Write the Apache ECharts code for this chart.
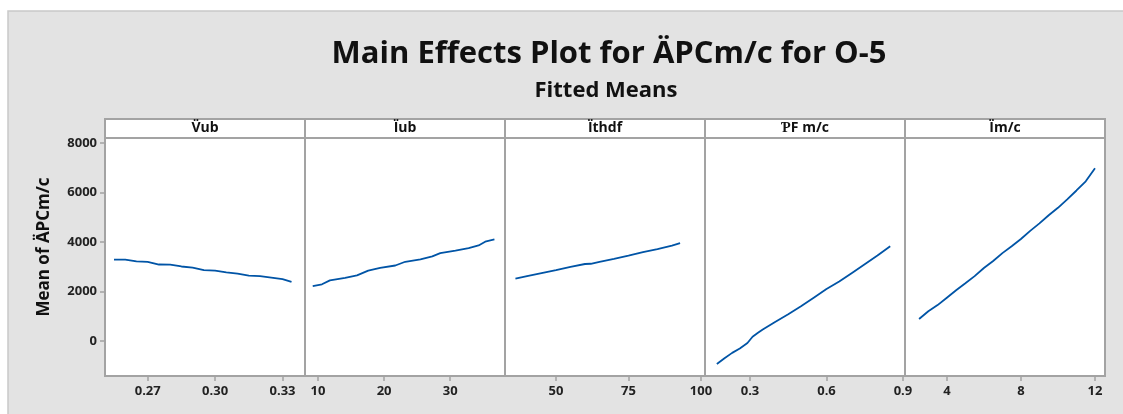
<!DOCTYPE html>
<html>
<head>
<meta charset="utf-8">
<script src="https://cdn.jsdelivr.net/npm/echarts@6/dist/echarts.min.js"></script>
<style>html,body{margin:0;padding:0;background:#fff}#c{width:1123px;height:414px}</style>
</head>
<body>
<div id="c"></div>
<script>
// Panel headers
var factors = ["V̈ub", "Ïub", "Ïthdf", "ƤF m/c", "Ïm/c"];
// Factor levels (x) and fitted means (y) for each panel
var vubX = [0.255,0.260,0.265,0.270,0.275,0.280,0.285,0.290,0.295,0.300,0.305,0.310,0.315,0.320,0.325,0.330,0.334];
var vubY = [3290,3290,3220,3200,3090,3085,3010,2960,2860,2840,2775,2720,2640,2620,2560,2500,2390];
var iubX = [9.2,10.6,11.8,14.1,15.9,17.6,19.4,21.7,23.2,25.5,27.3,28.5,30.8,32.8,34.3,35.3,36.7];
var iubY = [2220,2290,2450,2550,2650,2840,2950,3050,3200,3300,3420,3550,3650,3750,3860,4010,4100];
var ithX = [36,40,45,50,55,60,62,65,70,75,80,85,90,92.8];
var ithY = [2520,2620,2740,2860,2990,3110,3120,3200,3320,3450,3590,3710,3850,3950];
var pfX = [0.17,0.20,0.23,0.26,0.29,0.31,0.33,0.35,0.40,0.45,0.50,0.55,0.60,0.65,0.70,0.75,0.80,0.85];
var pfY = [-930,-700,-480,-300,-80,170,320,460,780,1080,1400,1750,2100,2400,2750,3100,3450,3830];
var imX = [2.5,3,3.5,4,4.5,5,5.5,6,6.5,7,7.5,8,8.5,9,9.5,10,10.5,11,11.5,12];
var imY = [890,1200,1450,1750,2050,2330,2620,2950,3230,3550,3830,4120,4450,4750,5080,5380,5720,6080,6450,6980];
// Axis tick labels
var vubTicks = [0.27,0.30,0.33];
var iubTicks = [10,20,30];
var ithTicks = [50,75,100];
var pfTicks = [0.3,0.6,0.9];
var imTicks = [4,8,12];
var yTicks = [0,2000,4000,6000,8000];

var xs = [vubX, iubX, ithX, pfX, imX];
var ys = [vubY, iubY, ithY, pfY, imY];
var ticks = [vubTicks, iubTicks, ithTicks, pfTicks, imTicks];
var decimals = [2, 0, 0, 1, 0];
var ranges = [[0.251,0.340],[8.03,38.3],[32.4,101.4],[0.1235,0.908],[1.74,12.54]];
var yMin = -1414, yMax = 8200;

var FONT = "Open Sans";
var grids = [], xAxes = [], yAxes = [], series = [], graphics = [];
graphics.push({type:'rect', shape:{x:8,y:11,width:1200,height:500}, style:{fill:'#e3e3e3', stroke:'#c9c9c9', lineWidth:1.5}, z:-10});
graphics.push({type:'text', x:44, y:247, rotation:Math.PI/2,
  style:{text:'Mean of ÄPCm/c', font:'bold 17px "Open Sans"', fill:'#111', textAlign:'center', textVerticalAlign:'middle'}});
graphics.push({type:'text', x:609, y:54, style:{text:'Main Effects Plot for ÄPCm/c for O-5', font:'bold 31px "Open Sans"', fill:'#111', textAlign:'center', textVerticalAlign:'middle'}});
graphics.push({type:'text', x:606, y:91, style:{text:'Fitted Means', font:'bold 22px "Open Sans"', fill:'#111', textAlign:'center', textVerticalAlign:'middle'}});

for (var i = 0; i < 5; i++) {
  var left = 105 + i*200;
  grids.push({left:left, top:138, width:200, height:238, show:true, backgroundColor:'#fff', borderColor:'#a3a3a3', borderWidth:2});
  graphics.push({type:'rect', shape:{x:left, y:119, width:200, height:19}, style:{fill:'#fff', stroke:'#a3a3a3', lineWidth:2}});
  graphics.push({type:'text', x:left+100, y:128.5, style:{text:factors[i], font:'bold 14px "Open Sans"', fill:'#111', textAlign:'center', textVerticalAlign:'middle'}, z:10});
  (function(d){
    xAxes.push({type:'value', gridIndex:i, min:ranges[i][0], max:ranges[i][1], position:'bottom',
      axisLine:{show:false, onZero:false}, splitLine:{show:false},
      axisTick:{show:true, length:5, customValues:ticks[i], lineStyle:{color:'#a3a3a3', width:1.5}},
      axisLabel:{show:true, customValues:ticks[i], margin:9, color:'#222', fontSize:13, fontWeight:'bold', fontFamily:FONT,
        formatter:function(v){return Number(v).toFixed(d);}}});
  })(decimals[i]);
  yAxes.push({type:'value', gridIndex:i, min:yMin, max:yMax, position:'left',
    axisLine:{show:false, onZero:false}, splitLine:{show:false},
    axisTick:{show:i===0, length:5, customValues:yTicks, lineStyle:{color:'#a3a3a3', width:1.5}},
    axisLabel:{show:i===0, customValues:yTicks, margin:8, color:'#222', fontSize:13, fontWeight:'bold', fontFamily:FONT,
      formatter:function(v){return String(v);}}});
  var pts = xs[i].map(function(x,k){return [x, ys[i][k]];});
  series.push({type:'line', xAxisIndex:i, yAxisIndex:i, data:pts, showSymbol:false, symbol:'none',
    lineStyle:{color:'#0054a6', width:1.8}, animation:false});
}

var chart = echarts.init(document.getElementById('c'), null, {renderer:'canvas'});
chart.setOption({
  backgroundColor:'#fff',
  animation:false,
  grid:grids, xAxis:xAxes, yAxis:yAxes, series:series,
  graphic:{elements:graphics}
});
</script>
</body>
</html>
